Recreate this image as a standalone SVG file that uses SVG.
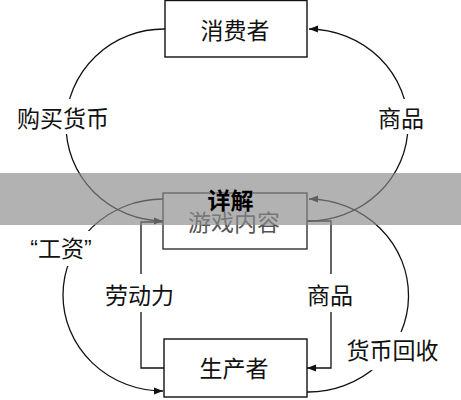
<svg xmlns="http://www.w3.org/2000/svg" width="461" height="400" viewBox="0 0 461 400">
<style>
.box{fill:#fff;stroke:#111;stroke-width:1.4}
.ln{fill:none;stroke:#111;stroke-width:1.3}
.t{font-family:"Noto Sans CJK SC","Noto Sans",sans-serif;font-size:23px;fill:#111;text-anchor:middle}
.gap{fill:#fff}
</style>
<defs>
<marker id="ah" viewBox="0 0 9 8" refX="9" refY="4" markerWidth="9" markerHeight="8" markerUnits="userSpaceOnUse" orient="auto">
<path d="M0,0.5 L9,4 L0,7.5 z" fill="#111"/>
</marker>
</defs>
<rect width="461" height="400" fill="#fff"/>
<g id="connectors">
<path class="ln" d="M165,29 A98,96 0 0 0 163,221" marker-end="url(#ah)"/>
<path class="ln" d="M307,221 A100,96 0 0 0 309,29" marker-end="url(#ah)"/>
<path class="ln" d="M163,199 A100,96 0 0 0 163,391" marker-end="url(#ah)"/>
<path class="ln" d="M307,392 A100,96 0 0 0 309,199" marker-end="url(#ah)"/>
<path class="ln" d="M163,222 H141 V368 H164"/>
<path class="ln" d="M307,221 H331 V368 H307" marker-end="url(#ah)"/>
</g>
<g id="label-gaps">
<rect class="gap" x="15" y="99" width="96" height="35"/>
<rect class="gap" x="377" y="99" width="48" height="35"/>
<rect class="gap" x="27" y="231" width="69" height="35"/>
<rect class="gap" x="104" y="274" width="70" height="38"/>
<rect class="gap" x="306" y="274" width="48" height="38"/>
<rect class="gap" x="345" y="332" width="95" height="38"/>
</g>
<g id="labels">
<text class="t" x="63" y="126.5">购买货币</text>
<text class="t" x="401" y="126.5">商品</text>
<text class="t" x="61" y="256.5" style="font-family:'Liberation Sans','Noto Sans CJK SC',sans-serif">“工资”</text>
<text class="t" x="139.5" y="304">劳动力</text>
<text class="t" x="330" y="304">商品</text>
<text class="t" x="392.5" y="359">货币回收</text>
</g>
<g id="consumer">
<rect class="box" x="165" y="0.5" width="142" height="56.5"/>
<text class="t" x="235" y="38.5">消费者</text>
</g>
<g id="game-content">
<rect class="box" x="163" y="193" width="144" height="56" style="stroke:#333"/>
<text class="t" x="234" y="231" style="fill:#555">游戏内容</text>
</g>
<g id="producer">
<rect class="box" x="164" y="339" width="143" height="58"/>
<text class="t" x="234" y="377">生产者</text>
</g>
<g id="banner">
<rect x="0" y="173" width="461" height="52" fill="#898989" fill-opacity="0.655"/>
<text class="t" x="230.5" y="208.5" style="font-weight:bold;fill:#000">详解</text>
</g>
</svg>
